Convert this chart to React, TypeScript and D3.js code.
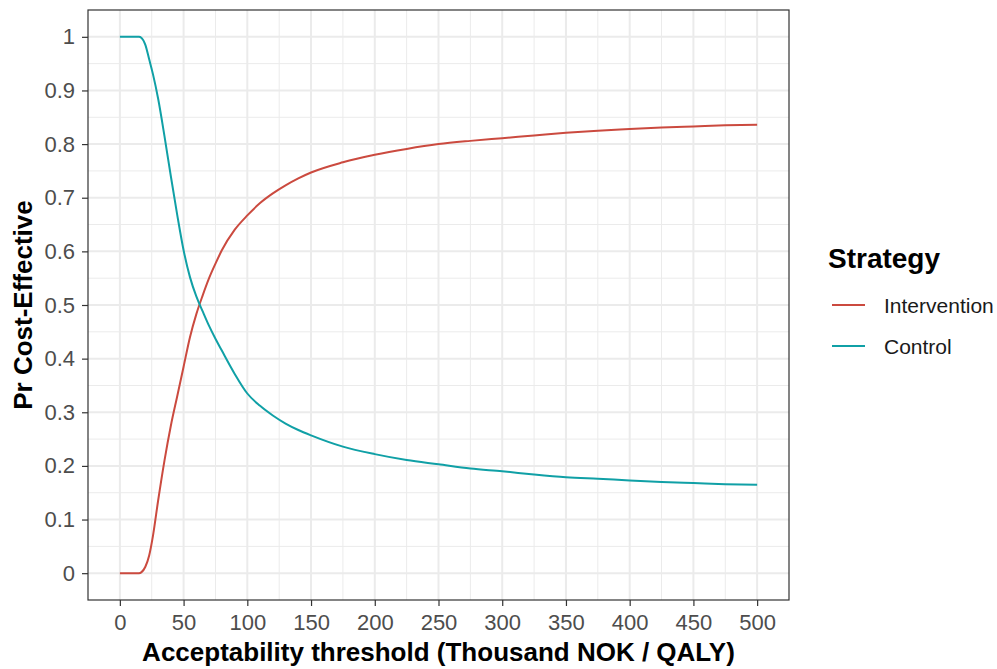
import React, { useEffect, useRef } from 'react';
import * as d3 from 'd3';

// willingness-to-pay thresholds (thousand NOK / QALY)
const thresholds = [0, 5, 10, 15, 17, 20, 23, 26, 30, 35, 40, 45, 50, 55, 60, 65, 70, 75, 80, 90, 100, 110, 120, 130, 140, 150, 175, 200, 225, 250, 275, 300, 325, 350, 375, 400, 425, 450, 475, 500];

// probability cost-effective
const intervention = [0, 0, 0, 0, 0.002, 0.012, 0.033, 0.07, 0.135, 0.21, 0.275, 0.33, 0.385, 0.44, 0.483, 0.518, 0.55, 0.577, 0.602, 0.64, 0.667, 0.69, 0.708, 0.723, 0.736, 0.747, 0.766, 0.78, 0.791, 0.8, 0.806, 0.811, 0.816, 0.821, 0.825, 0.828, 0.831, 0.833, 0.835, 0.836];
const control = [1, 1, 1, 1, 0.998, 0.985, 0.958, 0.93, 0.885, 0.815, 0.74, 0.668, 0.602, 0.552, 0.516, 0.488, 0.461, 0.437, 0.415, 0.372, 0.335, 0.312, 0.294, 0.279, 0.267, 0.257, 0.236, 0.222, 0.211, 0.203, 0.195, 0.19, 0.184, 0.179, 0.176, 0.173, 0.17, 0.168, 0.166, 0.165];

const strategies = ['Intervention', 'Control'];
const colours = ['#CB4A3F', '#10A0A6'];

const xTicks = [0, 50, 100, 150, 200, 250, 300, 350, 400, 450, 500];
const xMinor = [25, 75, 125, 175, 225, 275, 325, 375, 425, 475];
const yTicks = [0, 0.1, 0.2, 0.3, 0.4, 0.5, 0.6, 0.7, 0.8, 0.9, 1];
const yTickLabels = ['0', '0.1', '0.2', '0.3', '0.4', '0.5', '0.6', '0.7', '0.8', '0.9', '1'];
const yMinor = [0.05, 0.15, 0.25, 0.35, 0.45, 0.55, 0.65, 0.75, 0.85, 0.95];

const W = 997;
const H = 669;
const font = '"Liberation Sans", Arial, sans-serif';

export default function App() {
  const ref = useRef<SVGSVGElement>(null);

  useEffect(() => {
    const svg = d3.select(ref.current);
    svg.selectAll('*').remove();

    const left = 88, right = 789, top = 10, bottom = 600;
    const x = d3.scaleLinear().domain([-25, 525]).range([left, right]);
    const y = d3.scaleLinear().domain([-0.05, 1.05]).range([bottom, top]);

    svg.append('rect').attr('width', W).attr('height', H).attr('fill', '#fff');

    // grid
    const grid = svg.append('g');
    grid.append('g').selectAll('line').data(xMinor).join('line')
      .attr('x1', d => x(d)).attr('x2', d => x(d)).attr('y1', top).attr('y2', bottom)
      .attr('stroke', '#EBEBEB').attr('stroke-width', 1);
    grid.append('g').selectAll('line').data(yMinor).join('line')
      .attr('y1', d => y(d)).attr('y2', d => y(d)).attr('x1', left).attr('x2', right)
      .attr('stroke', '#EBEBEB').attr('stroke-width', 1);
    grid.append('g').selectAll('line').data(xTicks).join('line')
      .attr('x1', d => x(d)).attr('x2', d => x(d)).attr('y1', top).attr('y2', bottom)
      .attr('stroke', '#EBEBEB').attr('stroke-width', 2);
    grid.append('g').selectAll('line').data(yTicks).join('line')
      .attr('y1', d => y(d)).attr('y2', d => y(d)).attr('x1', left).attr('x2', right)
      .attr('stroke', '#EBEBEB').attr('stroke-width', 2);

    // curves
    const series = [intervention, control];
    const line = d3.line<number>()
      .x((_, i) => x(thresholds[i]))
      .y(d => y(d))
      .curve(d3.curveMonotoneX);
    series.forEach((s, i) => {
      svg.append('path')
        .attr('d', line(s))
        .attr('fill', 'none')
        .attr('stroke', colours[i])
        .attr('stroke-width', 2);
    });

    // panel border
    svg.append('rect')
      .attr('x', left).attr('y', top).attr('width', right - left).attr('height', bottom - top)
      .attr('fill', 'none').attr('stroke', '#333').attr('stroke-width', 1.2);

    // axes
    const xAxis = svg.append('g')
      .attr('transform', `translate(0,${bottom})`)
      .call(d3.axisBottom(x).tickValues(xTicks).tickSize(6).tickPadding(8).tickSizeOuter(0));
    xAxis.select('.domain').remove();

    const yAxis = svg.append('g')
      .attr('transform', `translate(${left},0)`)
      .call(d3.axisLeft(y).tickValues(yTicks).tickSize(6).tickPadding(7)
        .tickFormat((_, i) => yTickLabels[i]));
    yAxis.select('.domain').remove();

    svg.selectAll('.tick line').attr('stroke', '#333').attr('stroke-width', 1.2);
    svg.selectAll('.tick text')
      .attr('fill', '#4D4D4D')
      .style('font-family', font)
      .style('font-size', '22px');

    // axis titles
    svg.append('text')
      .attr('x', (left + right) / 2).attr('y', 661)
      .attr('text-anchor', 'middle')
      .style('font-family', font).style('font-size', '26px').style('font-weight', 'bold')
      .text('Acceptability threshold (Thousand NOK / QALY)');

    svg.append('text')
      .attr('transform', `translate(32,${(top + bottom) / 2}) rotate(-90)`)
      .attr('text-anchor', 'middle')
      .style('font-family', font).style('font-size', '26px').style('font-weight', 'bold')
      .text('Pr Cost-Effective');

    // legend
    const legend = svg.append('g');
    legend.append('text')
      .attr('x', 828).attr('y', 268)
      .style('font-family', font).style('font-size', '28px').style('font-weight', 'bold')
      .text('Strategy');
    strategies.forEach((s, i) => {
      const ly = 305 + i * 41;
      legend.append('line')
        .attr('x1', 832).attr('x2', 865).attr('y1', ly).attr('y2', ly)
        .attr('stroke', colours[i]).attr('stroke-width', 2);
      legend.append('text')
        .attr('x', 884).attr('y', ly + 8)
        .style('font-family', font).style('font-size', '21px')
        .attr('fill', '#1A1A1A')
        .text(s);
    });
  }, []);

  return (
    <div style={{ position: 'fixed', left: 0, top: 0 }}>
      <svg ref={ref} width={W} height={H} style={{ display: 'block' }} />
    </div>
  );
}
